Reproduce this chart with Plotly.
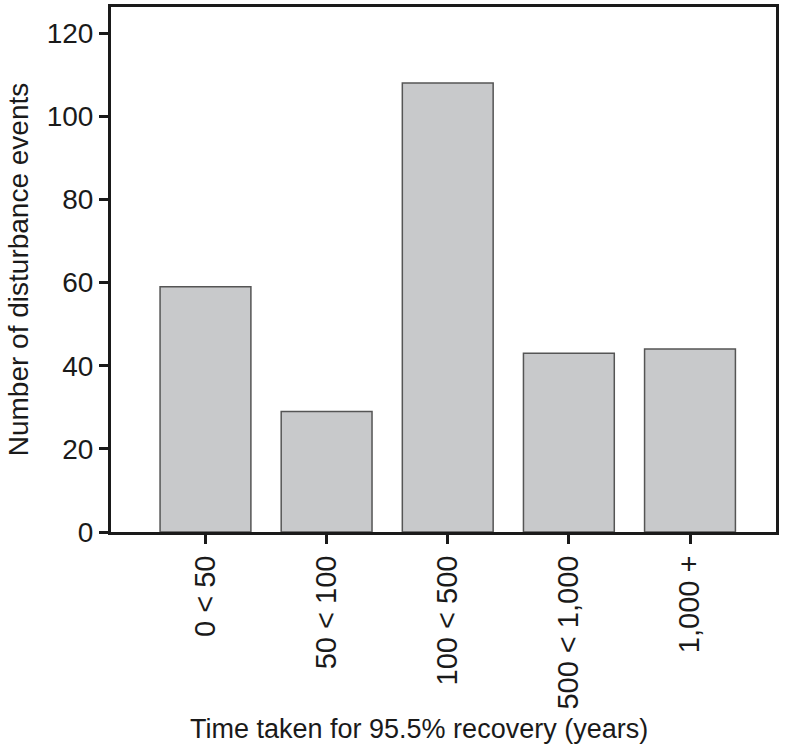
import plotly.graph_objects as go

# ── Datos ────────────────────────────────────────────────────────────────────
categories = ["0 < 50", "50 < 100", "100 < 500", "500 < 1,000", "1,000 +"]
events = [59, 29, 108, 43, 44]
y_ticks = [0, 20, 40, 60, 80, 100, 120]

FONT = "Liberation Sans, Arial, Helvetica, sans-serif"
INK = "#1a1a1a"

fig = go.Figure(
    go.Bar(
        x=categories,
        y=events,
        width=0.75,
        marker=dict(color="#c8c9cb", line=dict(color="#555555", width=1.5)),
    )
)

fig.update_layout(
    width=786,
    height=748,
    margin=dict(l=111, r=10, t=4, b=216),
    paper_bgcolor="white",
    plot_bgcolor="white",
    font=dict(family=FONT, size=27, color=INK),
    showlegend=False,
    # Título del eje x como anotación: en el original está algo desplazado a la izquierda
    annotations=[
        dict(
            text="Time taken for 95.5% recovery (years)",
            xref="paper",
            yref="paper",
            x=0.463,
            y=-0.375,
            xanchor="center",
            yanchor="middle",
            showarrow=False,
            font=dict(size=27),
        )
    ],
)

axis_style = dict(
    ticks="outside",
    ticklen=9,
    tickwidth=3,
    tickcolor=INK,
    showline=True,
    linewidth=3,
    linecolor=INK,
    mirror=True,
    showgrid=False,
)

fig.update_xaxes(
    range=[-0.78, 4.71],
    tickangle=-90,
    tickfont=dict(size=29),
    **axis_style,
)

fig.update_yaxes(
    range=[0, 126.3],
    tickvals=y_ticks,
    zeroline=False,
    tickfont=dict(size=28),
    title=dict(text="Number of disturbance events", font=dict(size=28), standoff=10),
    **axis_style,
)

# Quitar el margen por defecto del <body> para que la figura empiece en (0, 0)
fig.write_html(
    "out.html",
    config={"displayModeBar": False},
    post_script="document.body.style.margin='0';",
)
